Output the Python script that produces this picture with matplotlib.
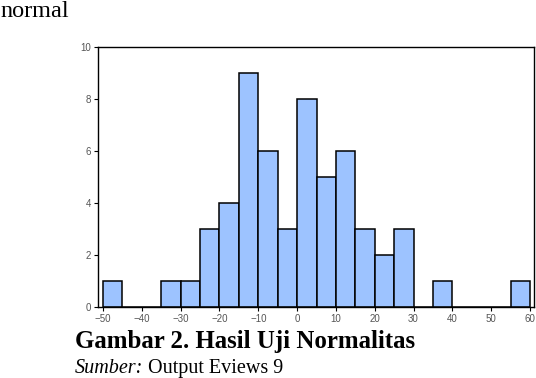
import matplotlib
matplotlib.use("Agg")
import matplotlib.pyplot as plt

# ── Data ──────────────────────────────────────────────────────────────────────
bin_lefts = [-50, -45, -40, -35, -30, -25, -20, -15, -10, -5, 0, 5,
             10, 15, 20, 25, 30, 35, 40, 45, 50, 55]
counts    = [1, 0, 0, 1, 1, 3, 4, 9, 6, 3, 8, 5,
             6, 3, 2, 3, 0, 1, 0, 0, 0, 1]
x_ticks   = [-50, -40, -30, -20, -10, 0, 10, 20, 30, 40, 50, 60]
y_ticks   = [0, 2, 4, 6, 8, 10]
BIN_W     = 5

BAR_COLOR = "#9DC3FF"
TICK_COL  = "#555555"
W, H      = 536, 378

fig = plt.figure(figsize=(W / 100, H / 100), dpi=100)
ax = fig.add_axes([0.1828, 0.1878, 0.8132, 0.6879])

ax.bar(bin_lefts, counts, width=BIN_W, align="edge",
       color=BAR_COLOR, edgecolor="black", linewidth=1.1)

ax.set_xlim(-51.3, 61)
ax.set_ylim(0, 10)
ax.set_xticks(x_ticks)
ax.set_yticks(y_ticks)
ax.tick_params(direction="out", length=3, width=0.8, labelsize=7,
               labelcolor=TICK_COL, pad=2)
for lab in ax.get_xticklabels() + ax.get_yticklabels():
    lab.set_family("Liberation Sans")
for s in ax.spines.values():
    s.set_linewidth(1.0)

# ── Surrounding text ──────────────────────────────────────────────────────────
fig.text(0.0, 1 - 17 / H, "normal", family="Liberation Serif", fontsize=17.5,
         va="baseline", ha="left")
fig.text(75 / W, 1 - 348 / H, "Gambar 2. Hasil Uji Normalitas",
         family="Liberation Serif", fontweight="bold", fontsize=17.9,
         va="baseline", ha="left")
src = fig.text(75 / W, 1 - 373 / H, "Sumber:", family="Liberation Serif",
               style="italic", fontsize=14.5, va="baseline", ha="left")
fig.canvas.draw()
bb = src.get_window_extent()
fig.text(bb.x1 / W + 5 / W, 1 - 373 / H, "Output Eviews 9",
         family="Liberation Serif", fontsize=14.5, va="baseline", ha="left")

fig.savefig("out.png", dpi=100)
